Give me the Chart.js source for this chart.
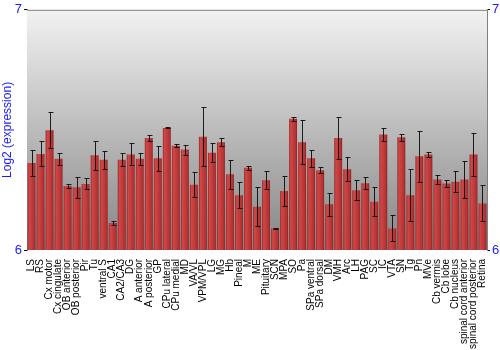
<!DOCTYPE html>
<html>
<head>
<meta charset="utf-8">
<script src="https://cdn.jsdelivr.net/npm/chart.js@4/dist/chart.umd.min.js"></script>
<style>
html,body{margin:0;padding:0;background:#fff;}
#wrap{width:500px;height:350px;}
</style>
</head>
<body>
<div id="wrap"><canvas id="c" width="500" height="350"></canvas></div>
<script>
const categories = ["LS","RS","Cx motor","Cx cingulate","OB anterior","OB posterior","Pir","Tu","ventral S","CA1","CA2/CA3","DG","A anterior","A posterior","GP","CPu lateral","CPu medial","MD","VA/VL","VPM/VPL","LG","MG","Hb","Pineal","M","ME","Pituitary","SCN","MPA","SO","Pa","SPa ventral","SPa dorsal","DM","VMH","Arc","LH","PAG","SC","IC","VTA","SN","Tg","Pn","MVe","Cb vermis","Cb lobe","Cb nucleus","spinal cord anterior","spinal cord posterior","Retina"];
const values = [6.362,6.400,6.499,6.380,6.266,6.261,6.275,6.394,6.376,6.112,6.376,6.398,6.380,6.466,6.382,6.508,6.434,6.418,6.272,6.472,6.405,6.449,6.315,6.228,6.342,6.180,6.290,6.089,6.246,6.546,6.449,6.382,6.332,6.190,6.466,6.336,6.249,6.278,6.201,6.481,6.090,6.469,6.228,6.390,6.398,6.293,6.277,6.284,6.293,6.398,6.194];
const errors = [0.055,0.052,0.075,0.025,0.007,0.043,0.023,0.061,0.037,0.007,0.026,0.046,0.025,0.012,0.052,0.002,0.007,0.021,0.051,0.122,0.039,0.017,0.061,0.055,0.009,0.082,0.037,0.003,0.064,0.009,0.091,0.035,0.012,0.047,0.087,0.050,0.041,0.024,0.060,0.026,0.054,0.014,0.109,0.105,0.010,0.019,0.016,0.043,0.078,0.090,0.075];
const yTicks = [6, 7];

const BAR_PCT = 0.88;

function barGradient(c) {
  const chart = c.chart;
  const xs = chart.scales && chart.scales.x;
  const area = chart.chartArea;
  if (!xs || !area || c.dataIndex === undefined) return '#c03c3c';
  const x = xs.getPixelForValue(c.dataIndex);
  const w = (area.right - area.left) / categories.length * BAR_PCT;
  const x0 = x - w / 2, x1 = x + w / 2;
  const g = chart.ctx.createLinearGradient(x0, 0, x1, 0);
  g.addColorStop(0, '#962828');
  g.addColorStop(0.2, '#cf4747');
  g.addColorStop(0.5, '#c43d3d');
  g.addColorStop(0.85, '#b23131');
  g.addColorStop(1, '#842020');
  return g;
}

const bgPlugin = {
  id: 'bg',
  beforeDatasetsDraw(chart) {
    const {ctx, chartArea: a} = chart;
    const g = ctx.createLinearGradient(0, a.top, 0, a.bottom);
    g.addColorStop(0, '#f2f2f2');
    g.addColorStop(1, '#858585');
    ctx.save();
    ctx.fillStyle = g;
    ctx.fillRect(a.left, a.top, a.right - a.left, a.bottom - a.top);
    ctx.strokeStyle = '#808080';
    ctx.lineWidth = 1;
    ctx.beginPath();
    ctx.moveTo(a.left, a.top + 0.5);
    ctx.lineTo(a.right, a.top + 0.5);
    ctx.stroke();
    ctx.restore();
  },
  afterDatasetsDraw(chart) {
    const {ctx} = chart;
    const ys = chart.scales.y;
    const meta = chart.getDatasetMeta(0);
    ctx.save();
    ctx.strokeStyle = 'rgba(0,0,0,0.85)';
    ctx.lineWidth = 1;
    meta.data.forEach((el, i) => {
      const x = Math.round(el.x) + 0.5;
      const yt = Math.round(ys.getPixelForValue(values[i] + errors[i])) + 0.5;
      const yb = Math.round(ys.getPixelForValue(values[i] - errors[i])) + 0.5;
      ctx.beginPath();
      ctx.moveTo(x, yt); ctx.lineTo(x, yb);
      ctx.moveTo(x - 2, yt); ctx.lineTo(x + 3, yt);
      ctx.moveTo(x - 2, yb); ctx.lineTo(x + 3, yb);
      ctx.stroke();
    });
    ctx.restore();
  }
};

const font = 'Liberation Sans, Arial, sans-serif';
new Chart(document.getElementById('c'), {
  type: 'bar',
  data: {
    labels: categories,
    datasets: [{
      data: values,
      backgroundColor: barGradient,
      borderWidth: 0,
      categoryPercentage: 1.0,
      barPercentage: BAR_PCT
    }]
  },
  options: {
    responsive: false,
    animation: false,
    layout: {padding: {top: 9, left: 0, right: 0, bottom: 0}},
    plugins: {legend: {display: false}, tooltip: {enabled: false}},
    scales: {
      x: {
        grid: {display: false},
        border: {display: false},
        ticks: {autoSkip: false, maxRotation: 90, minRotation: 90, color: '#000', padding: 1,
          font: {family: font, size: 10}},
        afterFit(s) { s.height = 100; }
      },
      y: {
        min: 6, max: 7,
        afterBuildTicks(s) { s.ticks = yTicks.map(v => ({value: v})); },
        ticks: {color: '#1a1aff', padding: 2, font: {family: font, size: 13}},
        grid: {drawOnChartArea: false, tickLength: 3, color: '#000'},
        border: {color: '#808080'},
        title: {display: true, text: 'Log2 (expression)', color: '#1a1aff', padding: 0,
          font: {family: font, size: 12}},
        afterFit(s) { s.width = 27; }
      },
      y2: {
        position: 'right',
        min: 6, max: 7,
        afterBuildTicks(s) { s.ticks = yTicks.map(v => ({value: v})); },
        ticks: {color: '#1a1aff', padding: 2, font: {family: font, size: 13}},
        grid: {drawOnChartArea: false, tickLength: 3, color: '#000'},
        border: {color: '#808080'},
        afterFit(s) { s.width = 13; }
      }
    }
  },
  plugins: [bgPlugin]
});
</script>
</body>
</html>
